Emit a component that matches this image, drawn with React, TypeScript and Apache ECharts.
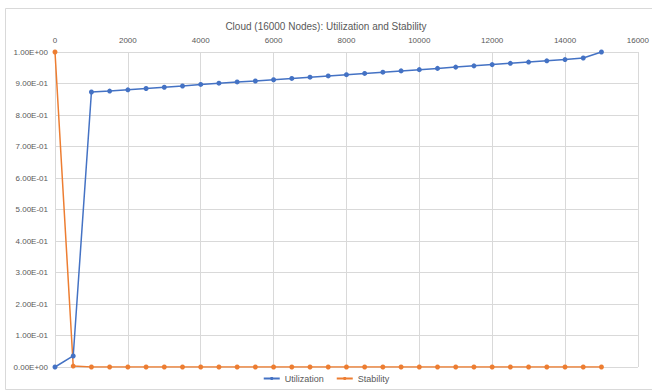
import React, { useEffect, useRef } from "react";
import * as echarts from "echarts";

// Node counts sampled every 500 up to 15000
const nodeCounts = [
  0, 500, 1000, 1500, 2000, 2500, 3000, 3500, 4000, 4500, 5000, 5500, 6000,
  6500, 7000, 7500, 8000, 8500, 9000, 9500, 10000, 10500, 11000, 11500, 12000,
  12500, 13000, 13500, 14000, 14500, 15000,
];

const utilization = [
  0, 0.035, 0.873, 0.876, 0.88, 0.884, 0.888, 0.892, 0.897, 0.901, 0.905,
  0.908, 0.912, 0.916, 0.92, 0.924, 0.928, 0.932, 0.936, 0.94, 0.944, 0.948,
  0.952, 0.956, 0.96, 0.964, 0.968, 0.972, 0.976, 0.981, 1.0,
];

const stability = [
  1.0, 0.003, 0, 0, 0, 0, 0, 0, 0, 0, 0, 0, 0, 0, 0, 0, 0, 0, 0, 0, 0, 0, 0,
  0, 0, 0, 0, 0, 0, 0, 0,
];

const seriesNames = ["Utilization", "Stability"];
const colors = ["#4472C4", "#ED7D31"];
const FONT = "'Liberation Sans', Arial, sans-serif";

// Scientific notation with a two-digit exponent, e.g. 9.00E-01
function sci(v: number): string {
  if (Math.abs(v) < 1e-12) return "0.00E+00";
  const [m, e] = v.toExponential(2).split("e");
  const n = parseInt(e, 10);
  const sign = n < 0 ? "-" : "+";
  const digits = String(Math.abs(n)).padStart(2, "0");
  return `${m}E${sign}${digits}`;
}

export default function App() {
  const ref = useRef<HTMLDivElement>(null);

  useEffect(() => {
    if (!ref.current) return;
    const chart = echarts.init(ref.current, undefined, { renderer: "svg" });
    const pairs = (ys: number[]) => nodeCounts.map((x, i) => [x, ys[i]]);
    chart.setOption({
      animation: false,
      backgroundColor: "#ffffff",
      textStyle: { fontFamily: FONT },
      title: {
        text: "Cloud (16000 Nodes): Utilization and Stability",
        left: "center",
        top: 16,
        textStyle: {
          fontFamily: FONT,
          fontSize: 10,
          fontWeight: "normal",
          color: "#595959",
        },
      },
      graphic: [
        {
          type: "rect",
          shape: { x: 5.5, y: 8.5, width: 660, height: 381 },
          style: { fill: "none", stroke: "#D9D9D9", lineWidth: 1 },
          silent: true,
        },
      ],
      legend: {
        bottom: 4,
        left: "center",
        itemWidth: 16,
        itemHeight: 4,
        itemGap: 12,
        textStyle: { fontFamily: FONT, fontSize: 9, color: "#595959" },
        data: seriesNames,
      },
      grid: { left: 55, right: 13, top: 52, bottom: 25, containLabel: false },
      xAxis: {
        type: "value",
        position: "top",
        min: 0,
        max: 16000,
        interval: 2000,
        axisLine: { show: false },
        axisTick: { show: false },
        axisLabel: {
          fontFamily: FONT,
          fontSize: 8,
          color: "#595959",
          margin: 8,
          formatter: (v: number) => String(v),
        },
        splitLine: { show: true, lineStyle: { color: "#D9D9D9", width: 1 } },
      },
      yAxis: {
        type: "value",
        min: 0,
        max: 1,
        interval: 0.1,
        axisLine: { show: false },
        axisTick: { show: false },
        axisLabel: {
          fontFamily: FONT,
          fontSize: 8,
          color: "#595959",
          margin: 7,
          formatter: (v: number) => sci(v),
        },
        splitLine: { show: true, lineStyle: { color: "#D9D9D9", width: 1 } },
      },
      series: [
        {
          name: seriesNames[0],
          type: "line",
          data: pairs(utilization),
          color: colors[0],
          symbol: "circle",
          symbolSize: 5,
          lineStyle: { width: 1.5, color: colors[0] },
          itemStyle: { color: colors[0] },
          z: 3,
        },
        {
          name: seriesNames[1],
          type: "line",
          data: pairs(stability),
          color: colors[1],
          symbol: "circle",
          symbolSize: 5,
          lineStyle: { width: 1.5, color: colors[1] },
          itemStyle: { color: colors[1] },
          z: 2,
        },
      ],
    });
    return () => chart.dispose();
  }, []);

  return (
    <div
      ref={ref}
      style={{ position: "fixed", left: 0, top: 0, width: 652, height: 392 }}
    />
  );
}
